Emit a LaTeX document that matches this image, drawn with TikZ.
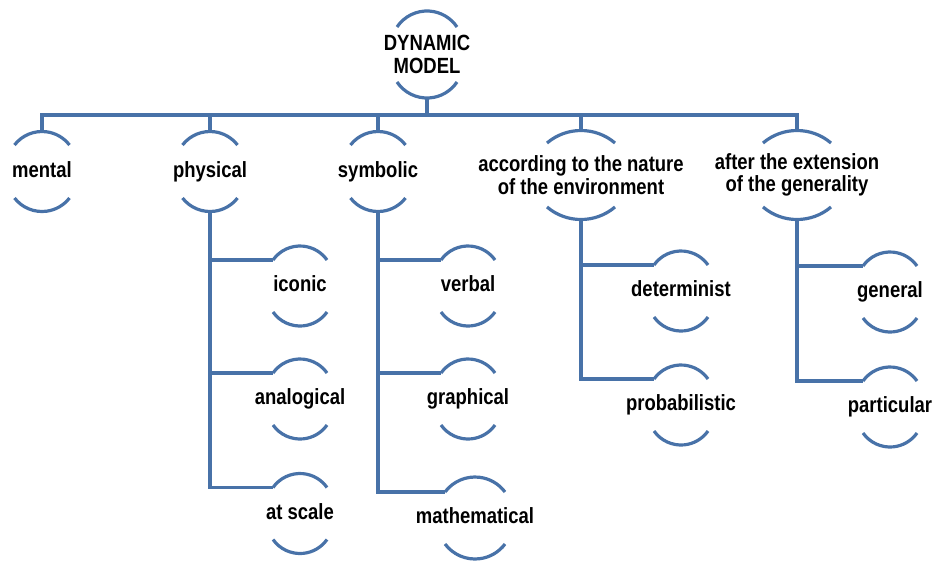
\documentclass[tikz,border=0pt]{standalone}
\usepackage{fontspec}
\setmainfont{Liberation Sans}[FakeStretch=0.84]
\definecolor{capblue}{RGB}{72,114,168}
\newcommand{\drawcaps}[4]{
    \pgfmathsetmacro\capR{(#2*#2+#4*#4)/(2*#4)}
    \pgfmathsetmacro\capA{asin(#2/\capR)}
    \draw[capline] ([shift={(-#2,#3)}]#1.center) arc[start angle=90+\capA, end angle=90-\capA, radius=\capR];
    \draw[capline] ([shift={(-#2,-#3)}]#1.center) arc[start angle=270-\capA, end angle=270+\capA, radius=\capR];
    \coordinate (#1-in) at ([shift={(-#2,#3)}]#1.center);
    \coordinate (#1-top) at ([shift={(0,#3+#4)}]#1.center);
    \coordinate (#1-bot) at ([shift={(0,-#3-#4)}]#1.center);
}

\begin{document}
\begin{tikzpicture}[x=1pt, y=1pt]
        \tikzstyle{capline}=[draw=capblue, line width=3.2pt]
        \tikzstyle{item}=[font=\bfseries\fontsize{22}{22.5}\selectfont, inner sep=0pt, text height=16pt, text depth=4.6pt]
        \tikzstyle{item2}=[font=\bfseries\fontsize{22}{22.5}\selectfont, inner sep=0pt, align=center]
        \useasboundingbox (0,0) rectangle (933,-563);

        \node[item2] (dyn) at (427,-54.5) {DYNAMIC\\MODEL};

        \node[item] (mental) at (42,-171.5) {mental};
        \node[item] (physical) at (210,-171.5) {physical};
        \node[item] (symbolic) at (378,-171.5) {symbolic};
        \node[item2] (nature) at (581,-175) {according to the nature\\of the environment};
        \node[item2] (extent) at (797,-175) {after the extension\\of the generality};

        \node[item] (iconic) at (300,-286) {iconic};
        \node[item] (analog) at (300,-399) {analogical};
        \node[item] (scale) at (300,-513.5) {at scale};
        \node[item] (verbal) at (468,-286) {verbal};
        \node[item] (graph) at (468,-399) {graphical};
        \node[item] (math) at (475,-518) {mathematical};
        \node[item] (determ) at (681,-291) {determinist};
        \node[item] (prob) at (681,-405) {probabilistic};
        \node[item] (gen) at (890,-292) {general};
        \node[item] (part) at (890,-407) {particular};

        \drawcaps{dyn}{30}{27.5}{16}
        \foreach \n in {mental,physical,symbolic} {\drawcaps{\n}{27.5}{26.5}{13.5}}
        \foreach \n in {nature,extent} {\drawcaps{\n}{34}{32}{12.5}}
        \foreach \n in {iconic,analog,scale,verbal,graph,determ,prob,gen,part} {\drawcaps{\n}{27}{26}{14}}
        \drawcaps{math}{30}{26}{15}

        \coordinate (bar) at (427,-115);
        \draw[capline] (dyn-bot) -- (bar);
        \draw[capline] (mental-top) |- (bar) -| (extent-top);
        \foreach \n in {physical,symbolic,nature} {\draw[capline] (\n-top) -- (bar -| \n-top);}
        \foreach \p/\c in {physical/iconic, physical/analog, physical/scale, symbolic/verbal, symbolic/graph, symbolic/math, nature/determ, nature/prob, extent/gen, extent/part}
            {\draw[capline] (\p-bot) |- (\c-in);}
\end{tikzpicture}
\end{document}
